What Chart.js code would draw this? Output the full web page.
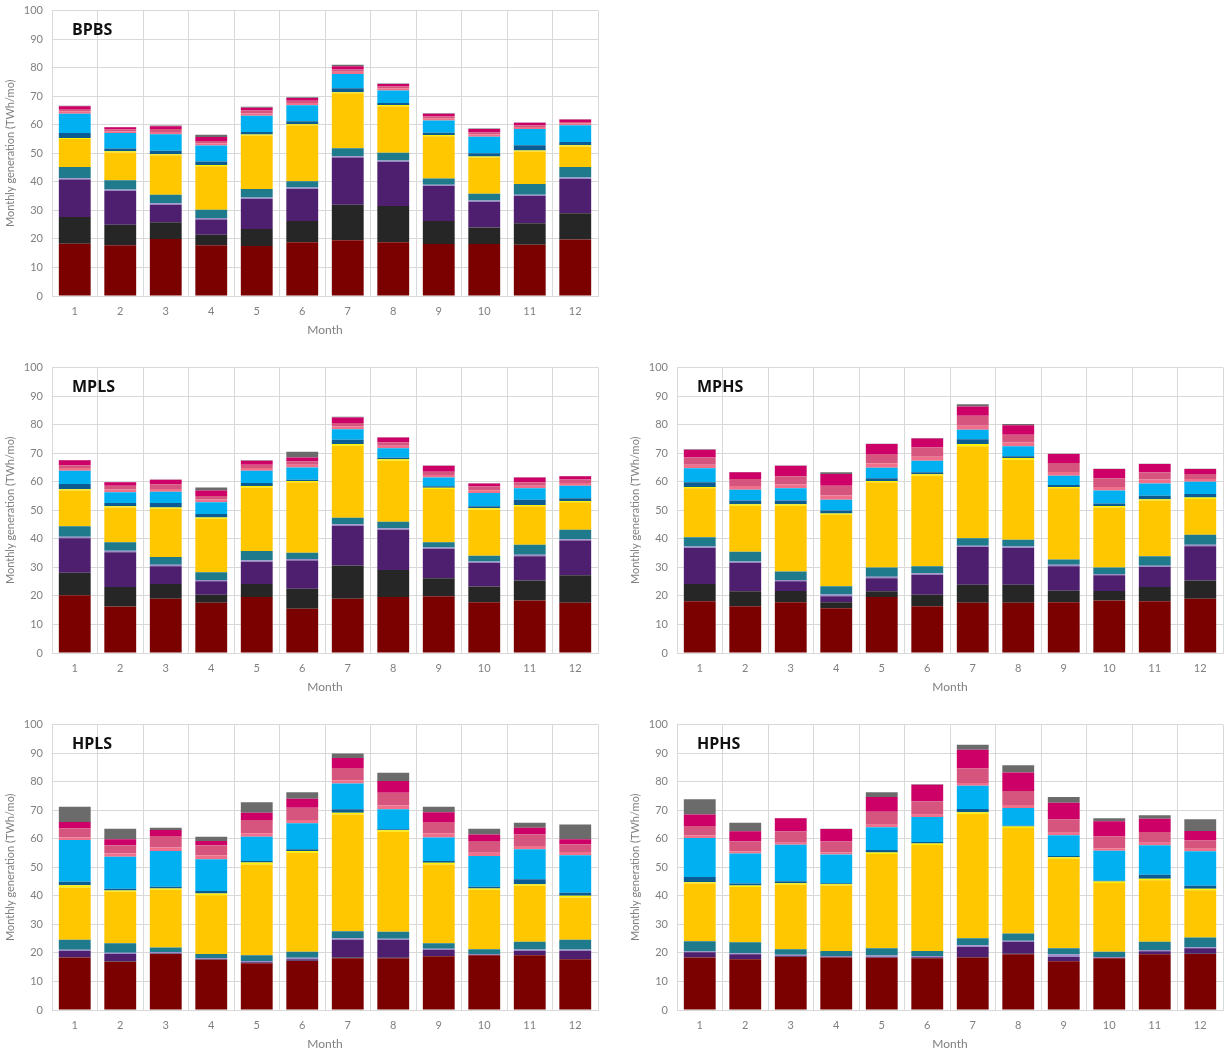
<!DOCTYPE html>
<html>
<head>
<meta charset="utf-8">
<script src="https://cdn.jsdelivr.net/npm/chart.js@4.4.1/dist/chart.umd.min.js"></script>
<style>
  body { margin: 0; background: #fff; width: 1225px; height: 1053px; position: relative; overflow: hidden; }
  .panel { position: absolute; width: 600px; height: 346px; }
  .panel canvas { position: absolute; left: 0; top: 0; }
  .tag { position: absolute; font-family: "Open Sans", sans-serif; font-weight: 700; font-size: 16px; color: #111; }
</style>
</head>
<body>
<script>
// month labels
const months = ['1', '2', '3', '4', '5', '6', '7', '8', '9', '10', '11', '12'];

// stack colours, bottom to top
const seriesColors = [
    '#7b0000', // maroon
    '#262626', // black
    '#4e1f6f', // purple
    '#9a8ec8', // lavender (thin)
    '#1f7a8c', // teal
    '#ffc700', // yellow
    '#fff200', // bright yellow (thin)
    '#0d5c91', // dark blue (thin)
    '#00b0f0', // light blue
    '#f0708c', // coral
    '#d6557f', // dusky pink
    '#cc0066', // magenta
    '#6b6b6b'  // gray
];

// ---- BPBS ----
const bpbsMaroon   = [18.3, 17.8, 20.0, 17.8, 17.5, 18.8, 19.5, 18.8, 18.2, 18.2, 18.0, 19.8];
const bpbsBlack    = [9.4, 7.2, 5.8, 3.7, 6.0, 7.5, 12.5, 12.7, 8.1, 5.8, 7.5, 9.2];
const bpbsPurple   = [13.1, 11.8, 6.2, 5.3, 10.5, 11.2, 16.5, 15.5, 12.2, 9.0, 9.5, 12.0];
const bpbsLavender = [0.5, 0.5, 0.5, 0.5, 0.5, 0.5, 0.5, 0.5, 0.5, 0.5, 0.5, 0.5];
const bpbsTeal     = [3.9, 3.3, 3.0, 2.9, 3.0, 2.2, 2.8, 2.7, 2.2, 2.3, 3.7, 3.7];
const bpbsYellow   = [9.8, 9.7, 13.8, 15.3, 18.7, 19.6, 19.2, 16.3, 14.8, 12.7, 11.4, 7.2];
const bpbsBrightY  = [0.4, 0.4, 0.4, 0.4, 0.4, 0.4, 0.4, 0.4, 0.4, 0.4, 0.4, 0.4];
const bpbsDarkBlue = [1.7, 1.0, 1.2, 1.2, 0.9, 1.0, 1.4, 0.7, 0.8, 1.1, 1.8, 1.2];
const bpbsBlue     = [6.8, 5.4, 5.8, 5.6, 5.7, 5.6, 5.0, 4.4, 4.3, 5.8, 5.7, 5.8];
const bpbsCoral    = [0.8, 0.6, 0.8, 0.8, 0.8, 0.8, 0.8, 0.8, 0.8, 0.8, 0.7, 0.7];
const bpbsPink     = [0.8, 0.6, 1.0, 0.8, 1.0, 0.8, 0.8, 0.6, 0.7, 0.7, 0.6, 0.5];
const bpbsMagenta  = [1.0, 0.8, 1.0, 1.4, 1.0, 1.0, 1.1, 0.9, 0.9, 1.2, 0.9, 0.8];
const bpbsGray     = [0.2, 0.1, 0.2, 0.8, 0.3, 0.2, 0.5, 0.2, 0.1, 0.2, 0.1, 0.1];

// ---- MPLS ----
const mplsMaroon   = [20.2, 16.3, 19.0, 17.6, 19.6, 15.5, 19.0, 19.6, 19.9, 17.8, 18.4, 17.6];
const mplsBlack    = [7.9, 6.8, 5.2, 2.8, 4.6, 7.0, 11.7, 9.5, 6.3, 5.5, 7.0, 9.6];
const mplsPurple   = [12.1, 12.2, 6.2, 4.7, 7.8, 9.9, 13.9, 14.1, 10.3, 8.3, 8.5, 12.2];
const mplsLavender = [0.5, 0.5, 0.5, 0.5, 0.5, 0.5, 0.5, 0.5, 0.5, 0.5, 0.5, 0.5];
const mplsTeal     = [3.7, 3.0, 2.7, 2.7, 3.2, 2.2, 2.3, 2.3, 1.8, 2.0, 3.5, 3.3];
const mplsYellow   = [12.5, 12.2, 16.9, 18.7, 22.3, 24.7, 25.2, 21.4, 18.7, 16.1, 13.5, 9.6];
const mplsBrightY  = [0.5, 0.4, 0.5, 0.5, 0.5, 0.5, 0.6, 0.5, 0.4, 0.5, 0.5, 0.5];
const mplsDarkBlue = [1.8, 1.2, 1.6, 1.2, 1.1, 0.4, 1.5, 0.5, 0.5, 0.7, 1.8, 0.9];
const mplsBlue     = [4.7, 3.7, 3.9, 4.1, 4.3, 4.3, 3.7, 3.3, 3.1, 4.7, 4.0, 4.4];
const mplsCoral    = [0.9, 1.0, 1.0, 1.0, 0.9, 1.0, 1.0, 0.9, 0.9, 0.9, 0.9, 1.0];
const mplsPink     = [1.0, 1.3, 1.5, 1.2, 1.2, 1.2, 1.2, 1.2, 1.1, 1.3, 1.2, 1.2];
const mplsMagenta  = [1.7, 1.2, 1.7, 1.9, 1.4, 1.3, 1.9, 1.7, 2.1, 1.1, 1.7, 1.1];
const mplsGray     = [0.1, 0.1, 0.1, 1.1, 0.1, 2.0, 0.3, 0.1, 0.1, 0.1, 0.1, 0.1];

// ---- MPHS ----
const mphsMaroon   = [18.1, 16.4, 17.8, 15.7, 19.6, 16.4, 17.6, 17.6, 17.8, 18.4, 18.1, 19.0];
const mphsBlack    = [6.1, 5.2, 3.9, 2.1, 2.0, 4.0, 6.3, 6.3, 4.0, 3.3, 5.0, 6.4];
const mphsPurple   = [12.6, 10.0, 3.4, 2.1, 4.6, 7.0, 13.2, 12.9, 8.6, 5.5, 7.0, 12.0];
const mphsLavender = [0.5, 0.5, 0.5, 0.6, 0.5, 0.5, 0.5, 0.5, 0.5, 0.5, 0.5, 0.5];
const mphsTeal     = [3.3, 3.4, 3.0, 2.9, 3.3, 2.5, 2.6, 2.4, 1.9, 2.3, 3.3, 3.5];
const mphsYellow   = [17.1, 16.1, 23.0, 25.0, 29.8, 31.7, 32.2, 28.0, 24.9, 21.0, 19.5, 12.6];
const mphsBrightY  = [0.5, 0.5, 0.5, 0.5, 0.5, 0.5, 0.8, 0.6, 0.5, 0.5, 0.5, 0.5];
const mphsDarkBlue = [1.6, 1.3, 1.3, 1.0, 0.9, 0.7, 1.7, 0.6, 0.7, 0.9, 1.2, 1.2];
const mphsBlue     = [4.9, 3.8, 4.3, 3.8, 3.7, 4.1, 3.3, 3.5, 3.2, 4.5, 4.3, 4.3];
const mphsCoral    = [1.3, 1.3, 1.3, 1.5, 1.6, 1.4, 1.4, 1.4, 1.3, 1.3, 1.4, 1.0];
const mphsPink     = [2.5, 2.5, 2.9, 3.4, 3.2, 3.2, 3.5, 2.7, 3.2, 3.0, 2.5, 1.7];
const mphsMagenta  = [2.7, 2.3, 3.7, 4.1, 3.5, 3.2, 3.3, 3.3, 3.1, 3.3, 2.9, 1.8];
const mphsGray     = [0.2, 0.1, 0.1, 0.6, 0.1, 0.1, 0.8, 0.4, 0.1, 0.1, 0.1, 0.1];

// ---- HPLS ----
const hplsMaroon   = [18.4, 16.9, 19.6, 17.6, 16.4, 17.2, 18.1, 18.1, 18.8, 19.2, 19.2, 17.8];
const hplsBlack    = [0.1, 0.2, 0.1, 0.1, 0.1, 0.1, 0.3, 0.2, 0.1, 0.0, 0.1, 0.1];
const hplsPurple   = [2.2, 2.5, 0.2, 0.2, 0.2, 0.5, 6.2, 6.2, 2.2, 0.2, 1.4, 2.8];
const hplsLavender = [0.4, 0.5, 0.4, 0.3, 0.5, 0.5, 0.5, 0.5, 0.4, 0.2, 0.5, 0.5];
const hplsTeal     = [3.5, 3.3, 1.6, 1.4, 2.0, 2.1, 2.5, 2.4, 1.9, 1.7, 2.7, 3.4];
const hplsYellow   = [18.3, 18.0, 20.2, 20.6, 31.8, 34.7, 40.9, 35.1, 27.6, 20.8, 19.6, 14.8];
const hplsBrightY  = [0.8, 0.5, 0.5, 0.6, 0.7, 0.6, 0.6, 0.5, 0.6, 0.5, 0.6, 0.6];
const hplsDarkBlue = [1.2, 0.6, 0.6, 0.9, 0.5, 0.6, 1.2, 0.3, 0.6, 0.6, 1.7, 1.1];
const hplsBlue     = [14.7, 11.2, 12.5, 11.1, 8.5, 9.1, 9.1, 7.0, 8.2, 10.8, 10.5, 13.1];
const hplsCoral    = [0.8, 1.2, 1.2, 1.4, 1.2, 1.2, 1.1, 1.4, 1.5, 1.1, 1.2, 1.2];
const hplsPink     = [3.2, 2.8, 4.1, 3.5, 4.7, 4.3, 4.3, 4.4, 4.0, 4.1, 4.0, 2.6];
const hplsMagenta  = [2.3, 2.1, 2.1, 1.5, 2.5, 3.1, 3.5, 4.1, 3.4, 2.3, 2.4, 1.8];
const hplsGray     = [5.3, 3.7, 0.8, 1.5, 3.7, 2.3, 1.6, 2.9, 1.9, 2.0, 1.7, 5.2];

// ---- HPHS ----
const hphsMaroon   = [18.4, 17.8, 18.6, 18.4, 18.3, 18.1, 18.4, 19.5, 17.1, 18.1, 19.5, 19.6];
const hphsBlack    = [0.1, 0.1, 0.1, 0.1, 0.1, 0.1, 0.2, 0.2, 0.1, 0.1, 0.1, 0.1];
const hphsPurple   = [1.7, 1.6, 0.3, 0.2, 0.2, 0.3, 3.5, 4.2, 1.4, 0.1, 1.0, 1.9];
const hphsLavender = [0.3, 0.4, 0.4, 0.2, 0.5, 0.4, 0.6, 0.4, 0.9, 0.3, 0.4, 0.4];
const hphsTeal     = [3.6, 3.8, 1.9, 1.8, 2.5, 1.8, 2.4, 2.5, 2.1, 1.8, 2.9, 3.4];
const hphsYellow   = [20.2, 19.4, 22.6, 22.9, 33.1, 37.1, 43.7, 37.0, 31.4, 24.1, 21.6, 16.6];
const hphsBrightY  = [0.5, 0.5, 0.5, 0.5, 0.5, 0.5, 0.5, 0.5, 0.5, 0.5, 0.5, 0.5];
const hphsDarkBlue = [1.8, 0.7, 0.7, 0.3, 0.9, 0.6, 1.1, 0.3, 0.5, 0.3, 1.4, 1.0];
const hphsBlue     = [13.7, 10.5, 12.8, 10.1, 7.9, 8.7, 8.2, 6.2, 7.2, 10.5, 10.3, 12.1];
const hphsCoral    = [0.9, 0.8, 0.7, 0.7, 0.9, 0.8, 0.9, 1.0, 0.9, 0.9, 0.9, 0.9];
const hphsPink     = [3.3, 3.5, 4.0, 3.8, 4.6, 4.7, 5.1, 4.9, 4.7, 4.1, 3.8, 2.9];
const hphsMagenta  = [4.0, 3.5, 4.6, 4.4, 5.1, 5.8, 6.6, 6.5, 5.8, 5.3, 4.6, 3.3];
const hphsGray     = [5.3, 3.0, 0.1, 0.1, 1.7, 0.2, 1.7, 2.6, 2.0, 1.1, 1.2, 4.1];

// panels and where they sit on the page
const panels = [
    { name: 'BPBS', left: 0,   top: 0,   series: [bpbsMaroon, bpbsBlack, bpbsPurple, bpbsLavender, bpbsTeal, bpbsYellow, bpbsBrightY, bpbsDarkBlue, bpbsBlue, bpbsCoral, bpbsPink, bpbsMagenta, bpbsGray] },
    { name: 'MPLS', left: 0,   top: 357, series: [mplsMaroon, mplsBlack, mplsPurple, mplsLavender, mplsTeal, mplsYellow, mplsBrightY, mplsDarkBlue, mplsBlue, mplsCoral, mplsPink, mplsMagenta, mplsGray] },
    { name: 'MPHS', left: 625, top: 357, series: [mphsMaroon, mphsBlack, mphsPurple, mphsLavender, mphsTeal, mphsYellow, mphsBrightY, mphsDarkBlue, mphsBlue, mphsCoral, mphsPink, mphsMagenta, mphsGray] },
    { name: 'HPLS', left: 0,   top: 714, series: [hplsMaroon, hplsBlack, hplsPurple, hplsLavender, hplsTeal, hplsYellow, hplsBrightY, hplsDarkBlue, hplsBlue, hplsCoral, hplsPink, hplsMagenta, hplsGray] },
    { name: 'HPHS', left: 625, top: 714, series: [hphsMaroon, hphsBlack, hphsPurple, hphsLavender, hphsTeal, hphsYellow, hphsBrightY, hphsDarkBlue, hphsBlue, hphsCoral, hphsPink, hphsMagenta, hphsGray] }
];

const gridColor = '#d9d9d9';
const textColor = '#808080';
const fontFamily = 'Lato, "Open Sans", sans-serif';

panels.forEach(function(p) {
    // canvas sits 5px higher so the plot top lands at panel top + 10
    const box = document.createElement('div');
    box.className = 'panel';
    box.style.left = p.left + 'px';
    box.style.top = (p.top - 5) + 'px';
    const canvas = document.createElement('canvas');
    canvas.width = 600;
    canvas.height = 346;
    box.appendChild(canvas);
    const tag = document.createElement('div');
    tag.className = 'tag';
    tag.textContent = p.name;
    tag.style.left = '72px';
    tag.style.top = '23px';
    box.appendChild(tag);
    document.body.appendChild(box);

    new Chart(canvas.getContext('2d'), {
        type: 'bar',
        data: {
            labels: months,
            datasets: p.series.map(function(values, i) {
                return {
                    data: values,
                    backgroundColor: seriesColors[i],
                    borderWidth: 0,
                    barPercentage: 0.7,
                    categoryPercentage: 1.0
                };
            })
        },
        options: {
            responsive: false,
            animation: false,
            devicePixelRatio: 1,
            layout: { padding: { top: 5, right: 2, left: 0, bottom: 0 } },
            plugins: {
                legend: { display: false },
                tooltip: { enabled: false }
            },
            scales: {
                x: {
                    stacked: true,
                    grid: { color: gridColor, drawTicks: false, offset: true },
                    border: { color: gridColor },
                    ticks: { color: textColor, padding: 9, font: { family: fontFamily, size: 11 } },
                    title: { display: true, text: 'Month', color: textColor, padding: { top: 2, bottom: 4 }, font: { family: fontFamily, size: 12 } },
                    afterFit: function(scale) { scale.height = 45; }
                },
                y: {
                    stacked: true,
                    min: 0,
                    max: 100,
                    grid: { color: gridColor, drawTicks: false },
                    border: { color: gridColor },
                    ticks: { stepSize: 10, color: textColor, padding: 9, font: { family: fontFamily, size: 11 } },
                    title: { display: true, text: 'Monthly generation (TWh/mo)', color: textColor, padding: 4, font: { family: fontFamily, size: 11 } },
                    afterFit: function(scale) { scale.width = 52; }
                }
            }
        }
    });
});
</script>
</body>
</html>
